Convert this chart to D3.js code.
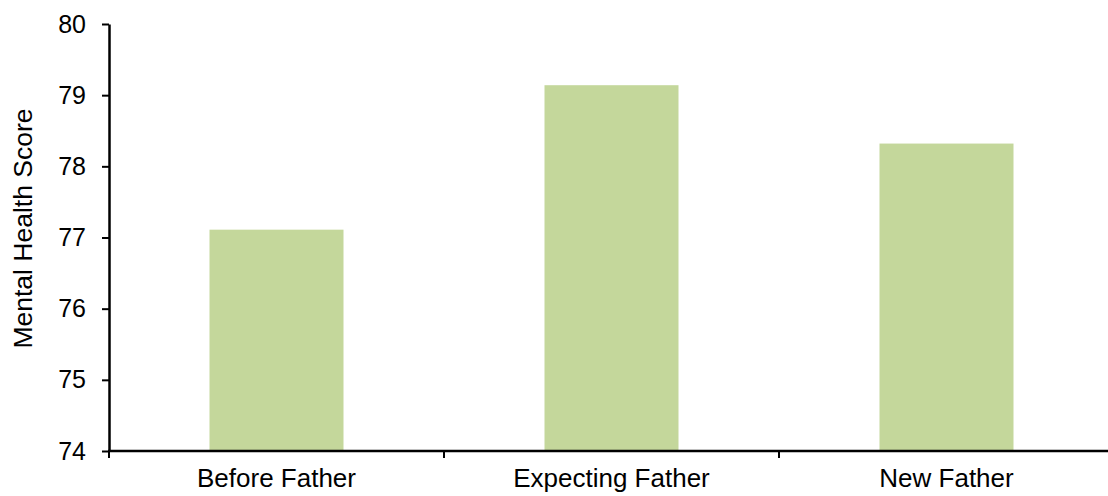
<!DOCTYPE html>
<html>
<head>
<meta charset="utf-8">
<script src="https://cdn.jsdelivr.net/npm/d3@7"></script>
<style>
body { margin: 0; background: #fff; }
svg { display: block; }
</style>
</head>
<body>
<div id="chart"></div>
<script>
// data
const categories = ["Before Father", "Expecting Father", "New Father"];
const scores = [77.11, 79.14, 78.32];
const yTicks = [74, 75, 76, 77, 78, 79, 80];

const width = 1108, height = 496;
const margin = {top: 24, right: -6, bottom: 45, left: 109};

const svg = d3.select("#chart")
  .append("svg")
  .attr("width", width)
  .attr("height", height)
  .attr("font-family", "Arial, 'Liberation Sans', sans-serif");

// band for the category slots, bars sit in the middle 40%
const x = d3.scaleBand()
  .domain(categories)
  .range([margin.left, width - margin.right])
  .paddingInner(0.6)
  .paddingOuter(0.3);

const xSlot = d3.scaleBand()
  .domain(categories)
  .range([margin.left, width - margin.right])
  .padding(0);

const y = d3.scaleLinear()
  .domain([74, 80])
  .range([height - margin.bottom, margin.top]);

// bars
svg.append("g")
  .selectAll("rect")
  .data(categories)
  .join("rect")
  .attr("x", d => x(d))
  .attr("width", x.bandwidth())
  .attr("y", (d, i) => y(scores[i]))
  .attr("height", (d, i) => y(74) - y(scores[i]))
  .attr("fill", "#c4d79b");

// Y axis
const yAxis = svg.append("g")
  .attr("transform", `translate(${margin.left},0)`)
  .call(d3.axisLeft(y).tickValues(yTicks).tickFormat(d3.format("d"))
    .tickSize(7).tickSizeOuter(0).tickPadding(16));
yAxis.select(".domain").attr("stroke", "#000").attr("stroke-width", 2.5);
yAxis.selectAll(".tick line").attr("stroke", "#000").attr("stroke-width", 2);
yAxis.selectAll(".tick text").attr("font-size", 25).attr("fill", "#000");

// X axis: labels centred on bars, ticks on slot boundaries
const xAxis = svg.append("g")
  .attr("transform", `translate(0,${y(74)})`)
  .call(d3.axisBottom(x).tickSize(0).tickSizeOuter(0).tickPadding(18));
xAxis.select(".domain").remove();
xAxis.selectAll(".tick text").attr("font-size", 26).attr("fill", "#000");

xAxis.append("line")
  .attr("x1", margin.left - 1)
  .attr("x2", width)
  .attr("stroke", "#000")
  .attr("stroke-width", 2.5);

const bounds = categories.map(d => xSlot(d)).concat([xSlot.range()[1]]);
xAxis.selectAll(".slot-tick")
  .data(bounds)
  .join("line")
  .attr("class", "slot-tick")
  .attr("x1", d => d)
  .attr("x2", d => d)
  .attr("y1", 0)
  .attr("y2", 7)
  .attr("stroke", "#000")
  .attr("stroke-width", 2);

// Y axis label
svg.append("text")
  .attr("text-anchor", "middle")
  .attr("transform", `rotate(-90)`)
  .attr("x", -228.5)
  .attr("y", 32)
  .attr("font-size", 26.5)
  .attr("fill", "#000")
  .text("Mental Health Score");
</script>
</body>
</html>
